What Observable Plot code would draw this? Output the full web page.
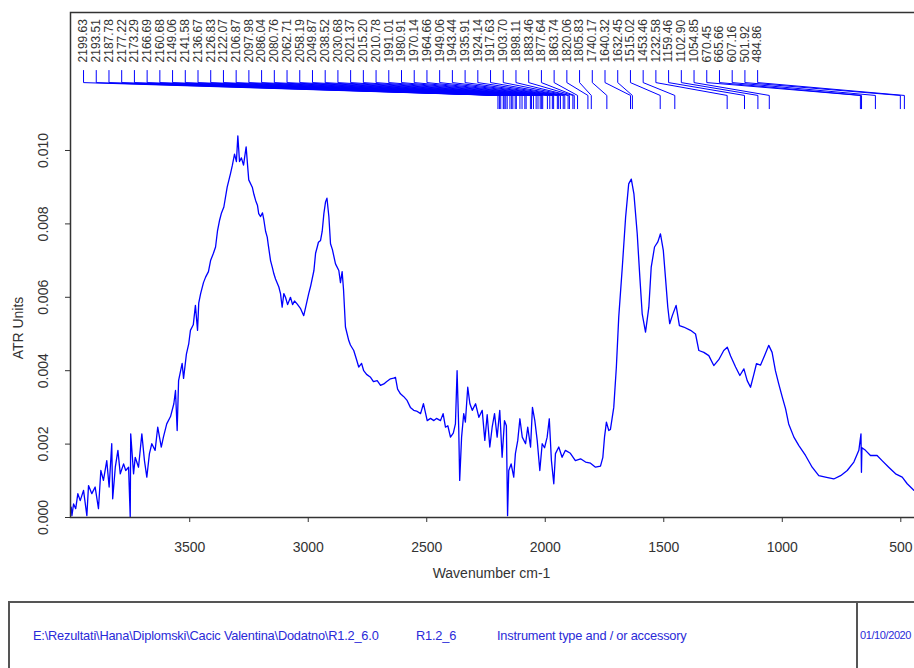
<!DOCTYPE html>
<html>
<head>
<meta charset="utf-8">
<script src="https://cdn.jsdelivr.net/npm/d3@7"></script>
<script src="https://cdn.jsdelivr.net/npm/@observablehq/plot@0.6"></script>
<style>
  html, body { margin: 0; padding: 0; background: #fff; overflow: hidden; width: 914px; height: 668px; }
  body { position: relative; font-family: "Liberation Sans", Arial, sans-serif; }
  #chart { position: absolute; left: 0; top: 0; }
  .footer { position: absolute; left: 8px; top: 601px; width: 1000px; height: 120px; border: 2px solid #555; box-sizing: border-box; }
  .divider { position: absolute; left: 846px; top: 0; width: 2px; height: 100%; background: #555; }
  .ft { position: absolute; top: 25px; font-size: 12.8px; color: #2a2ad8; white-space: nowrap; letter-spacing: -0.2px; }
  .date { font-size: 11px; letter-spacing: -0.4px; top: 26px; }
</style>
</head>
<body>
<div id="chart"></div>
<div class="footer">
  <div class="divider"></div>
  <span class="ft" style="left:23px">E:\Rezultati\Hana\Diplomski\Cacic Valentina\Dodatno\R1.2_6.0</span>
  <span class="ft" style="left:406px">R1.2_6</span>
  <span class="ft" style="left:487px">Instrument type and / or accessory</span>
  <span class="ft date" style="left:850px">01/10/2020</span>
</div>
<script>
// ---- data ----
const wavenumber = [4000,3997,3990,3981,3972,3962,3948,3934,3927,3913,3899,3885,3875,3864,3850,3840,3829,3825,3814,3803,3793,3779,3770,3758,3751,3749,3737,3730,3716,3702,3691,3681,3670,3660,3646,3635,3620,3611,3597,3581,3567,3560,3553,3547,3532,3526,3514,3504,3497,3485,3476,3467,3462,3454,3442,3433,3421,3412,3400,3391,3383,3374,3366,3356,3342,3328,3320,3311,3303,3297,3290,3282,3273,3262,3256,3251,3236,3229,3222,3214,3209,3201,3193,3187,3180,3173,3168,3159,3151,3145,3138,3124,3117,3110,3103,3096,3087,3075,3066,3058,3047,3033,3019,3012,2998,2990,2976,2969,2962,2957,2948,2941,2934,2927,2921,2913,2906,2898,2885,2871,2864,2857,2851,2843,2829,2822,2808,2796,2787,2775,2766,2754,2737,2725,2709,2695,2681,2670,2653,2640,2632,2623,2611,2598,2583,2569,2555,2543,2526,2514,2498,2484,2470,2459,2442,2431,2421,2411,2400,2388,2379,2372,2365,2361,2353,2344,2337,2327,2318,2308,2294,2280,2266,2255,2245,2234,2224,2214,2203,2192,2182,2172,2164,2159,2154,2144,2133,2126,2116,2107,2097,2083,2074,2062,2054,2044,2034,2023,2013,2003,1992,1983,1974,1964,1957,1943,1929,1915,1894,1873,1851,1830,1809,1788,1767,1757,1750,1742,1732,1725,1711,1700,1690,1675,1661,1648,1637,1626,1612,1601,1591,1577,1563,1553,1539,1525,1514,1502,1493,1483,1475,1464,1448,1434,1416,1387,1366,1352,1331,1310,1289,1268,1247,1232,1218,1197,1179,1162,1148,1134,1120,1109,1092,1075,1057,1043,1029,1015,1000,986,973,951,930,902,874,846,818,783,754,726,698,677,668,666,664,649,628,600,579,551,522,494,473,445];
const atr = [0.00028,0.00005,0.00037,0.00024,0.00065,0.00046,0.00074,0.00005,0.00087,0.00065,0.00083,0.00024,0.00128,0.00101,0.00155,0.00083,0.00201,0.00051,0.00137,0.00183,0.00119,0.00146,0.00128,0.00137,0.00001,0.00228,0.00119,0.00164,0.00137,0.00228,0.00155,0.0011,0.00174,0.00201,0.00183,0.00246,0.00192,0.00219,0.00255,0.00275,0.0031,0.00346,0.00237,0.00373,0.0042,0.00379,0.00445,0.00474,0.0051,0.00525,0.00578,0.0051,0.00584,0.0061,0.0064,0.00655,0.0067,0.007,0.0072,0.00737,0.0078,0.0081,0.0083,0.00846,0.009,0.00937,0.0096,0.0099,0.0097,0.0104,0.0097,0.0098,0.0096,0.0101,0.0096,0.0092,0.009,0.0088,0.00864,0.0085,0.00828,0.0082,0.0083,0.0081,0.0078,0.00764,0.0074,0.007,0.0068,0.00664,0.0065,0.00628,0.0061,0.00573,0.0061,0.006,0.0058,0.006,0.0058,0.0059,0.00582,0.0057,0.0055,0.0057,0.0061,0.0063,0.00673,0.0072,0.00737,0.0075,0.00755,0.0078,0.00828,0.0086,0.0087,0.0082,0.00746,0.0073,0.00691,0.00673,0.0064,0.0067,0.0062,0.00519,0.00482,0.0047,0.00455,0.0043,0.0041,0.0042,0.004,0.0039,0.00382,0.0037,0.00373,0.0036,0.00364,0.0037,0.00378,0.0038,0.00382,0.0035,0.00337,0.0033,0.00319,0.0030,0.00292,0.0029,0.00283,0.0031,0.00264,0.0027,0.00264,0.0027,0.00264,0.00283,0.00246,0.0025,0.00219,0.0023,0.00255,0.004,0.0024,0.00101,0.00219,0.00283,0.0026,0.00355,0.0031,0.00292,0.0031,0.00273,0.00292,0.0021,0.0028,0.00192,0.00246,0.00283,0.00219,0.00292,0.00164,0.00264,0.0025,0.00005,0.00128,0.00146,0.0011,0.00174,0.0021,0.00269,0.00219,0.00201,0.00246,0.00192,0.003,0.00264,0.0021,0.00128,0.00201,0.0019,0.00219,0.00269,0.00155,0.00092,0.00174,0.00192,0.00164,0.00183,0.00175,0.00155,0.0016,0.00151,0.00148,0.00137,0.0014,0.00164,0.00219,0.0026,0.00237,0.0024,0.003,0.0041,0.00546,0.00682,0.00818,0.00909,0.00922,0.00882,0.00773,0.00655,0.00555,0.00505,0.00573,0.00682,0.00737,0.00751,0.00773,0.00728,0.00655,0.00573,0.00528,0.0055,0.00578,0.00523,0.00519,0.0051,0.005,0.00455,0.0045,0.00441,0.00414,0.0043,0.00455,0.00464,0.0044,0.0041,0.00387,0.00405,0.00373,0.00355,0.0039,0.00419,0.00415,0.00441,0.00469,0.0045,0.004,0.00364,0.00328,0.00296,0.00255,0.00219,0.00196,0.00169,0.00137,0.00114,0.0011,0.00105,0.00114,0.00128,0.00151,0.00183,0.00228,0.00123,0.0019,0.00183,0.00169,0.00169,0.00155,0.00137,0.00119,0.0011,0.00092,0.00074];

const peakLabels = ["2199.63","2193.51","2187.78","2177.22","2173.29","2166.69","2160.68","2149.06","2141.58","2136.67","2126.83","2122.07","2106.87","2097.98","2086.04","2080.76","2062.71","2058.19","2049.87","2038.52","2030.68","2021.37","2015.20","2010.78","1991.01","1980.91","1970.14","1964.66","1949.06","1943.44","1935.91","1924.14","1917.63","1903.70","1898.11","1883.46","1877.64","1863.74","1820.06","1805.83","1740.17","1640.32","1632.45","1515.02","1453.46","1232.58","1159.46","1102.90","1054.85","670.45","665.66","607.16","501.92","484.86"];

const xTicks = [3500, 3000, 2500, 2000, 1500, 1000, 500];
const yTicks = [0, 0.002, 0.004, 0.006, 0.008, 0.010];
const xDomain = [4003, 400];
const yDomain = [0, 0.01376];

// label-zone levels (absorbance units in the top band of the frame)
const levelText = 0.01240, levelTickTop = 0.01218, levelTickBottom = 0.01185, levelBend = 0.01150, levelBottom = 0.01114;
const labelStart = 3948, labelStep = 53.66;

// ---- build tables ----
const spectrum = wavenumber.map((w, i) => ({w, a: atr[i]}));
const peaks = peakLabels.map((s, i) => ({i, label: s, wn: +s, lx: labelStart - i * labelStep}));
const leaders = peaks.flatMap(p => [
  {i: p.i, x: p.lx, y: levelTickTop},
  {i: p.i, x: p.lx, y: levelTickBottom},
  {i: p.i, x: p.wn, y: levelBend},
  {i: p.i, x: p.wn, y: levelBottom}
]);

const chart = Plot.plot({
  width: 934,
  height: 590,
  marginLeft: 70,
  marginRight: 10,
  marginTop: 12,
  marginBottom: 73,
  x: {domain: xDomain},
  y: {domain: yDomain},
  style: {fontFamily: "'Liberation Sans', Arial, sans-serif", color: "#333", background: "#fff", maxWidth: "none", overflow: "visible"},
  marks: [
    Plot.line(spectrum, {x: "w", y: "a", stroke: "#0000ff", strokeWidth: 1.3}),
    Plot.line(leaders, {x: "x", y: "y", z: "i", stroke: "#0000ff", strokeWidth: 1}),
    Plot.text(peaks, {x: "lx", y: () => levelText, text: "label", rotate: -90, textAnchor: "start", lineAnchor: "middle", fontSize: 12, fill: "#333"}),
    Plot.axisX({ticks: xTicks, tickSize: 5, tickPadding: 20, fontSize: 14, label: null, tickFormat: d => String(d)}),
    Plot.axisY({ticks: yTicks, tickSize: 5, tickFormat: () => "", label: null}),
    Plot.text(yTicks, {y: d => d, frameAnchor: "left", dx: -27, rotate: -90, textAnchor: "middle", lineAnchor: "middle", text: d => d3.format(".3f")(d), fontSize: 14, fill: "#333"}),
    Plot.text(["ATR Units"], {y: () => (yTicks[0] + yTicks[yTicks.length - 1]) / 2, frameAnchor: "left", dx: -52, dy: -6, rotate: -90, textAnchor: "middle", lineAnchor: "middle", text: d => d, fontSize: 14, fill: "#333"}),
    Plot.text(["Wavenumber cm-1"], {x: () => (xDomain[0] + xDomain[1]) / 2, frameAnchor: "bottom", dx: -6, dy: 56, textAnchor: "middle", lineAnchor: "middle", text: d => d, fontSize: 14, fill: "#333"}),
    Plot.frame({stroke: "#333", strokeWidth: 1.5})
  ]
});
document.getElementById("chart").appendChild(chart);
</script>
</body>
</html>
